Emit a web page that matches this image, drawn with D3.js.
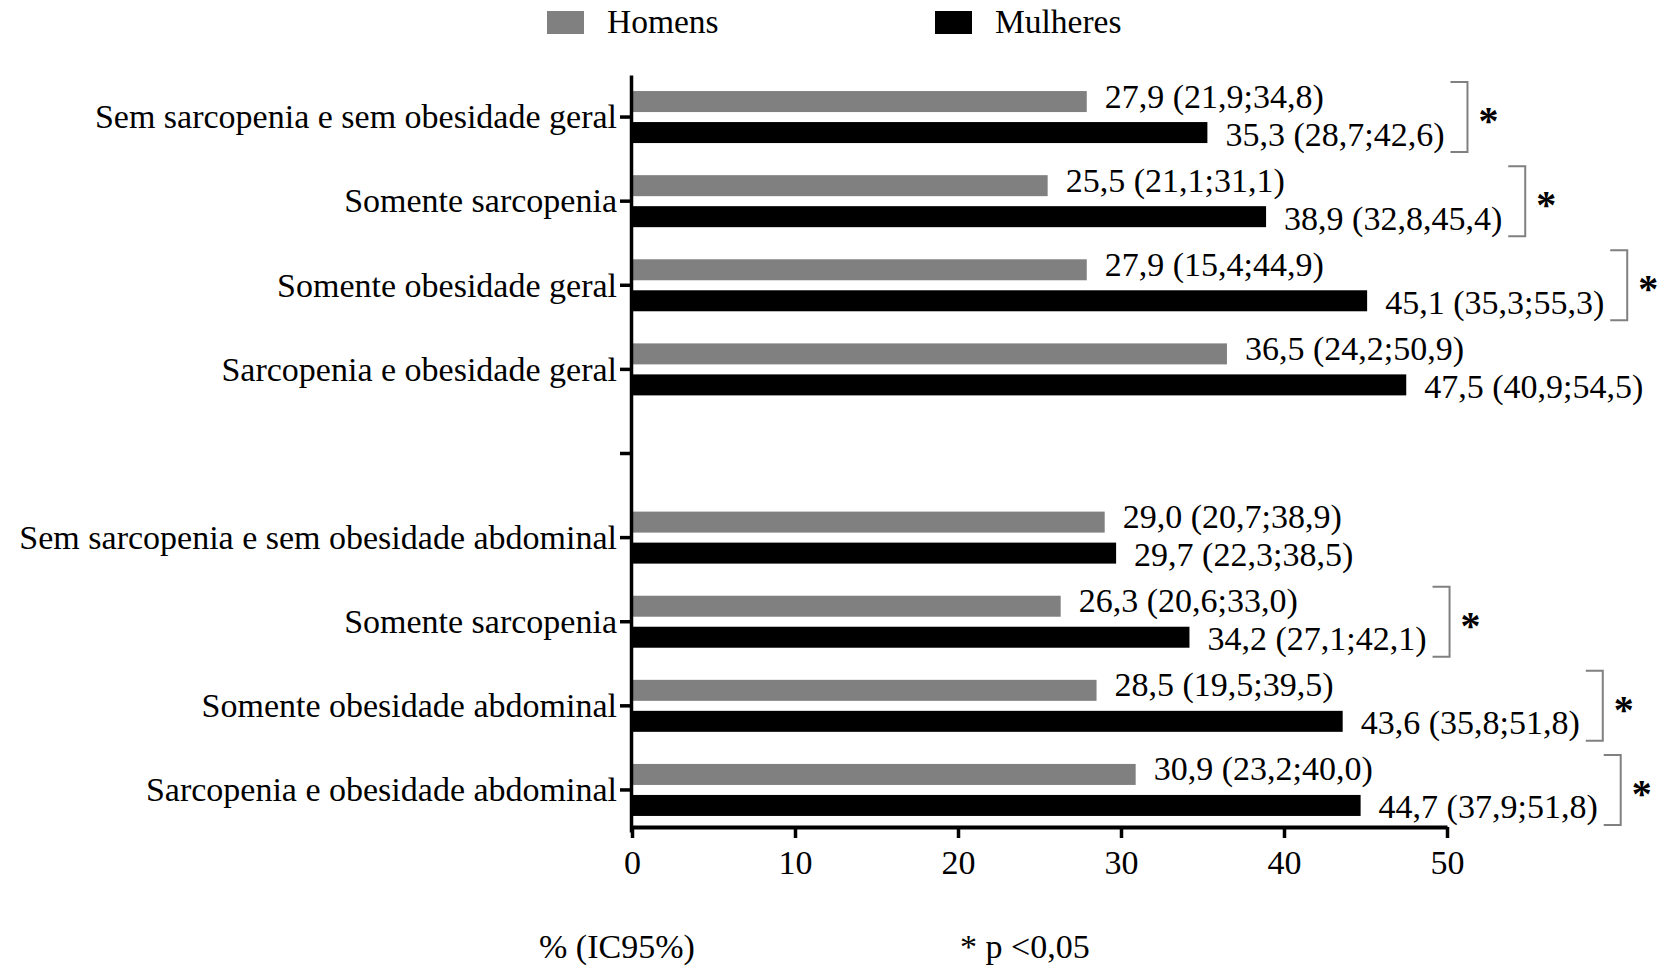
<!DOCTYPE html>
<html>
<head>
<meta charset="utf-8">
<script src="https://cdn.jsdelivr.net/npm/d3@7"></script>
<style>
  html, body { margin: 0; padding: 0; background: #fff; }
  svg { display: block; }
  text { font-family: "Liberation Serif", "Times New Roman", serif; fill: #000; }
</style>
</head>
<body>
<svg id="chart" width="1668" height="968"></svg>
<script>
// ---- Data ----
const categories = [
  "Sem sarcopenia e sem obesidade geral",
  "Somente sarcopenia",
  "Somente obesidade geral",
  "Sarcopenia e obesidade geral",
  "",
  "Sem sarcopenia e sem obesidade abdominal",
  "Somente sarcopenia",
  "Somente obesidade abdominal",
  "Sarcopenia e obesidade abdominal"
];
const homens   = [27.9, 25.5, 27.9, 36.5, null, 29.0, 26.3, 28.5, 30.9];
const homensCI = ["(21,9;34,8)", "(21,1;31,1)", "(15,4;44,9)", "(24,2;50,9)", null,
                  "(20,7;38,9)", "(20,6;33,0)", "(19,5;39,5)", "(23,2;40,0)"];
const mulheres   = [35.3, 38.9, 45.1, 47.5, null, 29.7, 34.2, 43.6, 44.7];
const mulheresCI = ["(28,7;42,6)", "(32,8,45,4)", "(35,3;55,3)", "(40,9;54,5)", null,
                    "(22,3;38,5)", "(27,1;42,1)", "(35,8;51,8)", "(37,9;51,8)"];
const significant = [true, true, true, false, false, false, true, true, true];
const seriesNames = ["Homens", "Mulheres"];
const seriesColors = ["#808080", "#000000"];
const xTicks = [0, 10, 20, 30, 40, 50];
const noteLeft = "% (IC95%)";
const noteRight = "* p <0,05";

// ---- Layout ----
const svg = d3.select("#chart");
const x = d3.scaleLinear().domain([0, 50]).range([632, 1447]);
const keys = categories.map((d, i) => String(i));
const y = d3.scaleBand().domain(keys).range([75, 832]).padding(0);
const bw = y.bandwidth();
const inner = d3.scaleBand().domain(seriesNames)
  .range([bw / 2 - 26, bw / 2 + 26]).paddingInner(0.3226).paddingOuter(0);
const xAxisY = 827;
const fmt = v => d3.format(".1f")(v).replace(".", ",");

const rows = categories.map((c, i) => ({
  key: String(i), label: c,
  vals: [
    {s: "Homens", v: homens[i], ci: homensCI[i]},
    {s: "Mulheres", v: mulheres[i], ci: mulheresCI[i]}
  ],
  sig: significant[i]
}));

// Bars
const g = svg.append("g");
rows.forEach((r, i) => {
  r.vals.forEach((d, j) => {
    if (d.v == null) return;
    g.append("rect")
      .attr("x", x(0))
      .attr("y", y(r.key) + inner(d.s))
      .attr("width", x(d.v) - x(0))
      .attr("height", inner.bandwidth())
      .attr("fill", seriesColors[j]);
  });
});

// Value labels
const labelEnds = {};
rows.forEach((r, i) => {
  r.vals.forEach((d, j) => {
    if (d.v == null) return;
    const cy = y(r.key) + inner(d.s) + inner.bandwidth() / 2;
    const t = g.append("text")
      .attr("x", x(d.v) + 18)
      .attr("y", cy + (j === 0 ? 6 : 13))
      .style("font-size", "34px")
      .text(fmt(d.v) + " " + d.ci);
    if (j === 1) labelEnds[r.key] = x(d.v) + 18 + t.node().getComputedTextLength();
  });
});

// Significance brackets
rows.forEach(r => {
  if (!r.sig) return;
  const cy = y(r.key) + bw / 2;
  const x0 = labelEnds[r.key] + 6;
  const x1 = x0 + 17;
  const top = cy - 35, bot = cy + 35;
  g.append("path")
    .attr("d", `M${x0},${top}H${x1}V${bot}H${x0}`)
    .attr("fill", "none")
    .attr("stroke", "#808080")
    .attr("stroke-width", 2);
  g.append("text")
    .attr("x", x1 + 21)
    .attr("y", cy + 17)
    .attr("text-anchor", "middle")
    .style("font-size", "40px")
    .style("font-weight", "bold")
    .text("*");
});

// Y axis
const yAxis = svg.append("g")
  .attr("transform", `translate(${x(0) - 1},0)`)
  .call(d3.axisLeft(y).tickSize(11).tickSizeOuter(0).tickPadding(3)
    .tickFormat((k) => categories[+k]));
yAxis.select(".domain").attr("stroke", "#000").attr("stroke-width", 3.5);
yAxis.selectAll(".tick line").attr("stroke", "#000").attr("stroke-width", 3.5);
yAxis.selectAll(".tick text")
  .attr("dy", "0.33em")
  .style("font-size", "34px")
  .style("font-family", "'Liberation Serif', 'Times New Roman', serif")
  .attr("fill", "#000");

// X axis
const xAxis = svg.append("g")
  .attr("transform", `translate(0,${xAxisY})`)
  .call(d3.axisBottom(x).tickValues(xTicks).tickSize(11).tickSizeOuter(0).tickPadding(12)
    .tickFormat(d3.format("d")));
xAxis.select(".domain").attr("stroke", "#000").attr("stroke-width", 4);
xAxis.selectAll(".tick line").attr("stroke", "#000").attr("stroke-width", 3.5);
xAxis.selectAll(".tick text")
  .style("font-size", "34px")
  .style("font-family", "'Liberation Serif', 'Times New Roman', serif")
  .attr("fill", "#000");

// Legend
const legendX = [547, 935];
seriesNames.forEach((s, j) => {
  svg.append("rect")
    .attr("x", legendX[j]).attr("y", 11)
    .attr("width", 37).attr("height", 23)
    .attr("fill", seriesColors[j]);
  svg.append("text")
    .attr("x", legendX[j] + 60).attr("y", 33)
    .style("font-size", "33.5px")
    .text(s);
});

// Notes
svg.append("text").attr("x", 539).attr("y", 958).style("font-size", "34px").text(noteLeft);
svg.append("text").attr("x", 960).attr("y", 958).style("font-size", "34px").text(noteRight);
</script>
</body>
</html>
